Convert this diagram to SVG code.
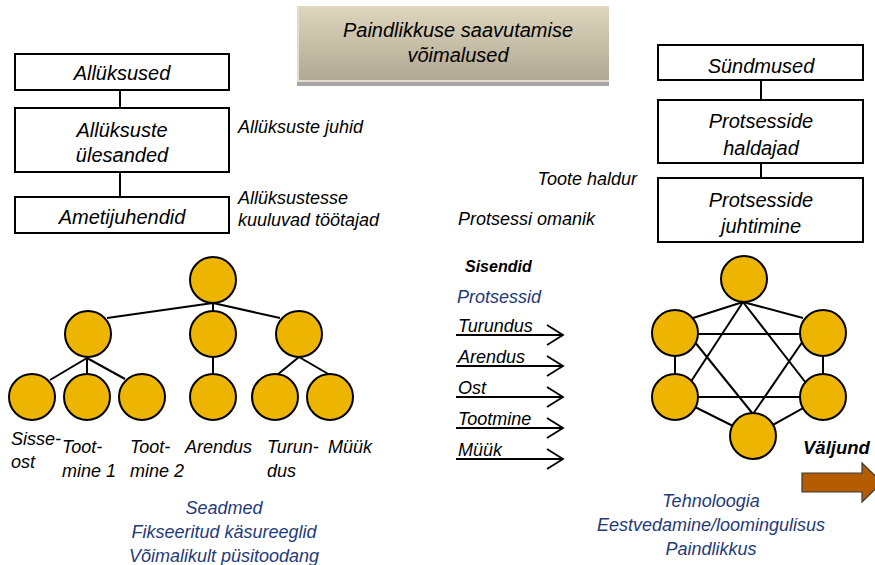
<svg xmlns="http://www.w3.org/2000/svg" width="875" height="565" viewBox="0 0 875 565">
  <defs>
    <linearGradient id="titleFill" x1="0" y1="0" x2="0" y2="1">
      <stop offset="0" stop-color="#ded5bd"/>
      <stop offset="1" stop-color="#b1a893"/>
    </linearGradient>
    <marker id="chevron" viewBox="0 0 20 24" refX="18" refY="12" markerWidth="20" markerHeight="24" markerUnits="userSpaceOnUse" orient="auto">
      <path d="M2,2 L18,12 L2,22" fill="none" stroke="#000" stroke-width="1.8"/>
    </marker>
  </defs>
  <style>
    text { font-family: "Liberation Sans", Arial, sans-serif; font-style: italic; fill: #000; }
    .box { fill: #fff; stroke: #000; stroke-width: 2; }
    .bt { font-size: 20px; text-anchor: middle; }
    .lbl { font-size: 18px; }
    .blue { fill: #1f3a78; font-size: 18px; }
    .mid { text-anchor: middle; }
    .ln { stroke: #000; stroke-width: 2; fill: none; }
    .dot { fill: #edb500; stroke: #000; stroke-width: 2; }
    .flow { stroke: #000; stroke-width: 1.8; fill: none; }
  </style>

  <!-- title banner -->
  <g id="title">
    <rect x="297" y="6" width="312" height="80" fill="#a6a6a6"/>
    <rect x="297" y="6" width="312" height="76" fill="#e4dccb"/>
    <rect x="299" y="7" width="310" height="73" fill="url(#titleFill)"/>
    <text class="bt" x="458" y="37">Paindlikkuse saavutamise</text>
    <text class="bt" x="458" y="62">võimalused</text>
  </g>

  <!-- left column: functional structure -->
  <g id="connectors-left-boxes">
    <line class="ln" x1="120" y1="90" x2="120" y2="108"/>
    <line class="ln" x1="120" y1="172" x2="120" y2="197"/>
  </g>
  <g id="allyksused">
    <rect class="box" x="15" y="54" width="214" height="36"/>
    <text class="bt" x="122" y="80">Allüksused</text>
  </g>
  <g id="ylesanded">
    <rect class="box" x="15" y="108" width="214" height="64"/>
    <text class="bt" x="122" y="137">Allüksuste</text>
    <text class="bt" x="122" y="162">ülesanded</text>
  </g>
  <g id="ametijuhendid">
    <rect class="box" x="15" y="197" width="214" height="36"/>
    <text class="bt" x="122" y="224">Ametijuhendid</text>
  </g>
  <g id="left-notes">
    <text class="lbl" x="238" y="133">Allüksuste juhid</text>
    <text class="lbl" x="238" y="204">Allüksustesse</text>
    <text class="lbl" x="238" y="226">kuuluvad töötajad</text>
  </g>

  <!-- right column: process structure -->
  <g id="connectors-right-boxes">
    <line class="ln" x1="761" y1="80" x2="761" y2="100"/>
    <line class="ln" x1="761" y1="163" x2="761" y2="178"/>
  </g>
  <g id="syndmused">
    <rect class="box" x="658" y="45" width="205" height="35"/>
    <text class="bt" x="761" y="73">Sündmused</text>
  </g>
  <g id="haldajad">
    <rect class="box" x="658" y="100" width="205" height="63"/>
    <text class="bt" x="761" y="128">Protsesside</text>
    <text class="bt" x="761" y="155">haldajad</text>
  </g>
  <g id="juhtimine">
    <rect class="box" x="658" y="178" width="205" height="64"/>
    <text class="bt" x="761" y="207">Protsesside</text>
    <text class="bt" x="761" y="233">juhtimine</text>
  </g>
  <g id="right-notes">
    <text class="lbl" x="637" y="185" text-anchor="end">Toote haldur</text>
    <text class="lbl" x="458" y="225">Protsessi omanik</text>
  </g>

  <!-- hierarchy tree -->
  <g id="tree-connectors">
    <line class="ln" x1="213" y1="303" x2="107" y2="318"/>
    <line class="ln" x1="213" y1="303" x2="213" y2="312"/>
    <line class="ln" x1="213" y1="303" x2="280" y2="318"/>
    <line class="ln" x1="87" y1="358" x2="50" y2="380"/>
    <line class="ln" x1="87" y1="358" x2="87" y2="375"/>
    <line class="ln" x1="87" y1="358" x2="125" y2="379"/>
    <line class="ln" x1="213" y1="357" x2="213" y2="375"/>
    <line class="ln" x1="299" y1="357" x2="277" y2="375"/>
    <line class="ln" x1="299" y1="357" x2="330" y2="375"/>
  </g>
  <g id="tree-root"><circle class="dot" cx="213" cy="280" r="23"/></g>
  <g id="tree-a"><circle class="dot" cx="88" cy="334" r="23"/></g>
  <g id="tree-b"><circle class="dot" cx="213" cy="334" r="23"/></g>
  <g id="tree-c"><circle class="dot" cx="299" cy="334" r="23"/></g>
  <g id="tree-sisseost"><circle class="dot" cx="32" cy="397" r="23"/></g>
  <g id="tree-tootmine1"><circle class="dot" cx="87" cy="397" r="23"/></g>
  <g id="tree-tootmine2"><circle class="dot" cx="142" cy="397" r="23"/></g>
  <g id="tree-arendus"><circle class="dot" cx="213" cy="397" r="23"/></g>
  <g id="tree-turundus"><circle class="dot" cx="275" cy="397" r="23"/></g>
  <g id="tree-myyk"><circle class="dot" cx="330" cy="397" r="23"/></g>
  <g id="tree-labels">
    <text class="lbl" x="11" y="445">Sisse-</text>
    <text class="lbl" x="11" y="468">ost</text>
    <text class="lbl" x="62" y="453">Toot-</text>
    <text class="lbl" x="62" y="477">mine 1</text>
    <text class="lbl" x="130" y="453">Toot-</text>
    <text class="lbl" x="130" y="477">mine 2</text>
    <text class="lbl" x="185" y="453">Arendus</text>
    <text class="lbl" x="267" y="453">Turun-</text>
    <text class="lbl" x="267" y="477">dus</text>
    <text class="lbl" x="328" y="453">Müük</text>
  </g>
  <g id="tree-notes">
    <text class="blue mid" x="224" y="514">Seadmed</text>
    <text class="blue mid" x="224" y="538">Fikseeritud käsureeglid</text>
    <text class="blue mid" x="224" y="562">Võimalikult püsitoodang</text>
  </g>

  <!-- process inputs -->
  <g id="inputs">
    <text x="465" y="272" font-size="16" font-weight="bold">Sisendid</text>
    <text class="blue" x="457" y="303">Protsessid</text>
    <text class="lbl" x="458" y="332">Turundus</text>
    <text class="lbl" x="458" y="363">Arendus</text>
    <text class="lbl" x="458" y="394">Ost</text>
    <text class="lbl" x="458" y="425">Tootmine</text>
    <text class="lbl" x="458" y="456">Müük</text>
  </g>
  <g id="input-arrows">
    <line class="flow" x1="456" y1="335" x2="563" y2="335" marker-end="url(#chevron)"/>
    <line class="flow" x1="456" y1="366" x2="563" y2="366" marker-end="url(#chevron)"/>
    <line class="flow" x1="456" y1="397" x2="563" y2="397" marker-end="url(#chevron)"/>
    <line class="flow" x1="456" y1="428" x2="563" y2="428" marker-end="url(#chevron)"/>
    <line class="flow" x1="456" y1="459" x2="563" y2="459" marker-end="url(#chevron)"/>
  </g>

  <!-- process network -->
  <g id="network-connectors">
    <line class="ln" x1="743" y1="302" x2="693" y2="318"/>
    <line class="ln" x1="743" y1="302" x2="803" y2="318"/>
    <line class="ln" x1="743" y1="302" x2="690" y2="383"/>
    <line class="ln" x1="743" y1="302" x2="806" y2="383"/>
    <line class="ln" x1="675" y1="334" x2="823" y2="334"/>
    <line class="ln" x1="675" y1="397" x2="823" y2="397"/>
    <line class="ln" x1="675" y1="333" x2="675" y2="397"/>
    <line class="ln" x1="823" y1="333" x2="823" y2="397"/>
    <line class="ln" x1="694" y1="341" x2="753" y2="414"/>
    <line class="ln" x1="803" y1="341" x2="753" y2="414"/>
    <line class="ln" x1="675" y1="397" x2="753" y2="436"/>
    <line class="ln" x1="823" y1="397" x2="753" y2="436"/>
  </g>
  <g id="net-top"><circle class="dot" cx="744" cy="279" r="23"/></g>
  <g id="net-ul"><circle class="dot" cx="675" cy="333" r="23"/></g>
  <g id="net-ur"><circle class="dot" cx="823" cy="333" r="23"/></g>
  <g id="net-ll"><circle class="dot" cx="675" cy="397" r="23"/></g>
  <g id="net-lr"><circle class="dot" cx="823" cy="397" r="23"/></g>
  <g id="net-bottom"><circle class="dot" cx="753" cy="436" r="23"/></g>
  <g id="network-notes">
    <text class="blue mid" x="711" y="507">Tehnoloogia</text>
    <text class="blue mid" x="711" y="531">Eestvedamine/loomingulisus</text>
    <text class="blue mid" x="711" y="555">Paindlikkus</text>
  </g>

  <!-- output -->
  <g id="output">
    <text x="803" y="454" font-size="18.5" font-weight="bold" font-style="normal">Väljund</text>
    <path d="M802,473 H862 V463 L882,482.5 L862,502 V492 H802 Z" fill="#b35c02" stroke="#3a3a3a" stroke-width="1.2"/>
  </g>
</svg>
